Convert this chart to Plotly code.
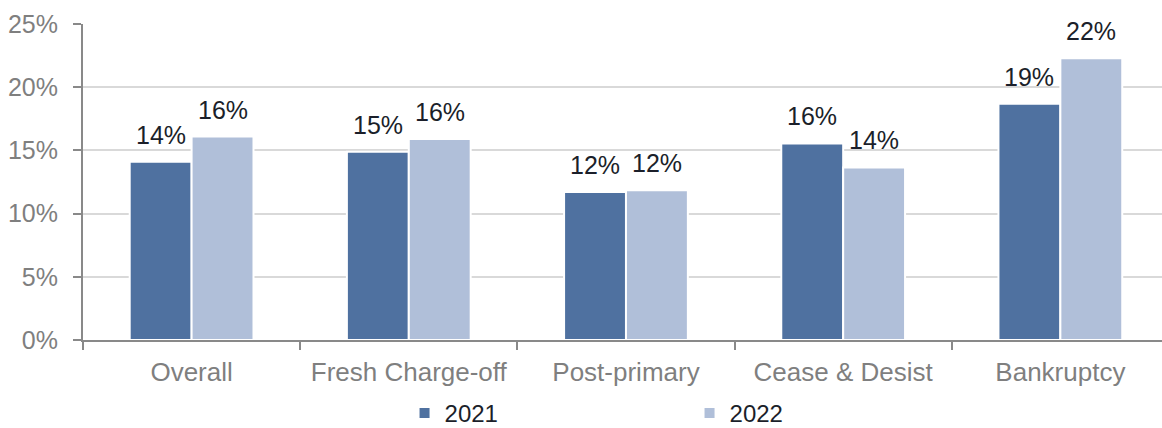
import plotly.graph_objects as go

# Share of accounts by placement type, two years
categories = ["Overall", "Fresh Charge-off", "Post-primary", "Cease & Desist", "Bankruptcy"]
series_2021 = [14.1, 14.9, 11.7, 15.55, 18.7]
series_2022 = [16.1, 15.9, 11.85, 13.65, 22.3]
y_ticks = [0, 5, 10, 15, 20, 25]
y_tick_labels = [f"{t}%" for t in y_ticks]

COLOR_2021 = "#4F71A0"
COLOR_2022 = "#B0BFD9"
AXIS_GRAY = "#898989"
TEXT_GRAY = "#7F7F7F"
LABEL_DARK = "#1B1F2A"
FONT = "Liberation Sans, Arial, sans-serif"

BARGAP = 0.43

fig = go.Figure()
fig.add_trace(go.Bar(
    name="2021", x=categories, y=series_2021,
    marker=dict(color=COLOR_2021, line=dict(color="white", width=2)),
))
fig.add_trace(go.Bar(
    name="2022", x=categories, y=series_2022,
    marker=dict(color=COLOR_2022, line=dict(color="white", width=2)),
))

# value labels above each bar
half = (1 - BARGAP) / 4
for i, (a, b) in enumerate(zip(series_2021, series_2022)):
    for off, v in ((-half, a), (half, b)):
        fig.add_annotation(
            x=i + off, y=v, xref="x", yref="y",
            text=f"{v:.0f}%", showarrow=False,
            yanchor="bottom", yshift=11,
            font=dict(family=FONT, size=25, color=LABEL_DARK),
        )

fig.update_layout(
    width=1162, height=428,
    margin=dict(l=83, r=0, t=24, b=88, autoexpand=False),
    paper_bgcolor="white", plot_bgcolor="white",
    barmode="group", bargap=BARGAP, bargroupgap=0,
    font=dict(family=FONT, size=25, color=TEXT_GRAY),
    legend=dict(
        orientation="h", x=0.298, xanchor="left",
        yref="container", y=0.034, yanchor="middle",
        font=dict(family=FONT, size=24, color=LABEL_DARK),
        entrywidth=240, entrywidthmode="pixels",
        bgcolor="rgba(0,0,0,0)",
    ),
    xaxis=dict(
        type="category", range=[-0.5, 4.468],
        showline=True, linecolor=AXIS_GRAY, linewidth=2,
        ticks="outside", tickson="boundaries", ticklen=8,
        tickcolor=AXIS_GRAY, tickwidth=2,
        tickfont=dict(family=FONT, size=26, color=TEXT_GRAY),
        ticklabelstandoff=8,
        showgrid=False,
    ),
    yaxis=dict(
        range=[0, 25], tickvals=y_ticks, ticktext=y_tick_labels,
        showline=True, linecolor=AXIS_GRAY, linewidth=2,
        ticks="outside", ticklen=8, tickcolor=AXIS_GRAY, tickwidth=2,
        tickfont=dict(family=FONT, size=25, color=TEXT_GRAY),
        ticklabelstandoff=10,
        showgrid=True, gridcolor="#D9D9D9", gridwidth=1.5,
        zeroline=False,
    ),
)

fig.write_html("out.html")
